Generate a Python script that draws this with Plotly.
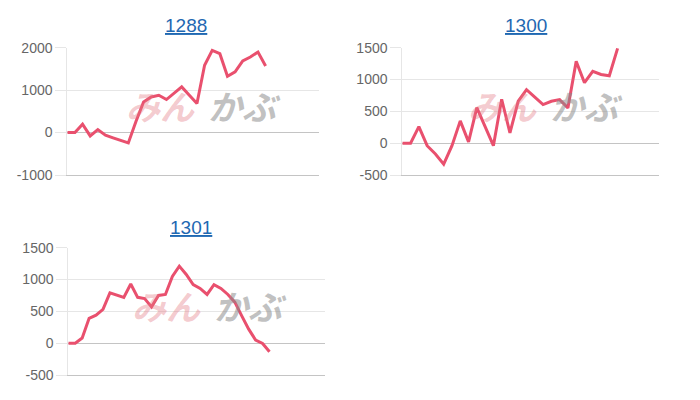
import plotly.graph_objects as go

# ---- data ----
titles = ["1288", "1300", "1301"]
n_categories = [34, 32, 38]
values_1288 = [0, 0, 196, -79, 71, -63, -126, -181, -244, 260, 723, 840, 880, 778, 919,
               1076, 880, 683, 1586, 1937, 1859, 1328, 1430, 1687, 1781, 1898, 1570]
values_1300 = [0, 0, 260, -40, -170, -330, -40, 350, 20, 560, 260, -40, 690, 160, 660,
               840, 725, 606, 658, 684, 554, 1285, 950, 1130, 1080, 1060, 1490]
values_1301 = [0, 0, 80, 390, 440, 530, 790, 750, 720, 930, 720, 700, 570, 750, 765,
               1050, 1210, 1080, 920, 860, 765, 920, 860, 765, 645, 430, 220, 50, -5, -135]
y_ranges = [[-1000, 2000], [-500, 1500], [-500, 1500]]
y_ticks = [[-1000, 0, 1000, 2000], [-500, 0, 500, 1000, 1500], [-500, 0, 500, 1000, 1500]]
y_ticktext = [["-1000", "0", "1000", "2000"], ["-500", "0", "500", "1000", "1500"],
              ["-500", "0", "500", "1000", "1500"]]
series = [values_1288, values_1300, values_1301]

W, H = 700, 400
# observed rendering: paper occupies screen y 8..392
Y0, HE = 8.0, 384.0


def py(y):
    return 1 - (y - Y0) / HE


boxes = [(67.3, 319, 47.7, 175), (402.3, 659, 47.7, 175), (68.3, 325, 247.7, 375)]
title_pos = [(186, 25), (526, 25), (191, 227)]
wm_pos = [(160, 244, 105), (502, 586, 105), (166, 250, 305)]

LINE = "rgb(233,80,110)"
GRID = "#e6e6e6"
DARK = "#c4c4c4"

fig = go.Figure()
annotations = []
for i, (vals, n) in enumerate(zip(series, n_categories)):
    k = "" if i == 0 else str(i + 1)
    fig.add_trace(go.Scatter(
        x=list(range(len(vals))), y=vals, mode="lines",
        line=dict(color=LINE, width=3), xaxis="x" + k, yaxis="y" + k,
        showlegend=False, hoverinfo="skip"))
    l, r, t, b = boxes[i]
    fig.update_layout(**{
        "xaxis" + k: dict(domain=[l / W, r / W], range=[0, n - 1], anchor="y" + k,
                          showgrid=False, zeroline=False, showticklabels=False,
                          showline=True, linecolor=DARK, linewidth=1, ticks=""),
        "yaxis" + k: dict(domain=[py(b), py(t)], range=y_ranges[i], anchor="x" + k,
                          tickvals=y_ticks[i], ticktext=y_ticktext[i],
                          showgrid=True, gridcolor=GRID, gridwidth=1,
                          zeroline=True, zerolinecolor=DARK, zerolinewidth=1,
                          showline=True, linecolor=GRID, linewidth=1,
                          ticks="outside", ticklen=11, tickcolor=GRID,
                          tickfont=dict(family="Liberation Sans, Arial", size=14, color="#666666")),
    })
    tx, ty = title_pos[i]
    annotations.append(dict(text=titles[i], x=tx / W, y=py(ty), xref="paper", yref="paper",
                            showarrow=False, xanchor="center", yanchor="middle",
                            font=dict(family="Liberation Sans, Arial", size=19, color="#1f68b2",
                                      lineposition="under")))
    px, gx, wy = wm_pos[i]
    annotations.append(dict(text="みん", x=px / W, y=py(wy), xref="paper", yref="paper",
                            showarrow=False, xanchor="center", yanchor="middle",
                            font=dict(family="Noto Sans CJK JP", size=34, weight="bold",
                                      style="italic", color="rgba(228,120,130,0.4)")))
    annotations.append(dict(text="かぶ", x=gx / W, y=py(wy), xref="paper", yref="paper",
                            showarrow=False, xanchor="center", yanchor="middle",
                            font=dict(family="Noto Sans CJK JP", size=34, weight="bold",
                                      style="italic", color="rgba(140,140,140,0.55)")))

fig.update_layout(width=W, height=H, margin=dict(l=0, r=0, t=0, b=0),
                  paper_bgcolor="white", plot_bgcolor="white",
                  annotations=annotations)
fig.write_html("out.html", config={"displayModeBar": False},
               post_script="document.body.style.margin='0';document.body.style.overflow='hidden';")
